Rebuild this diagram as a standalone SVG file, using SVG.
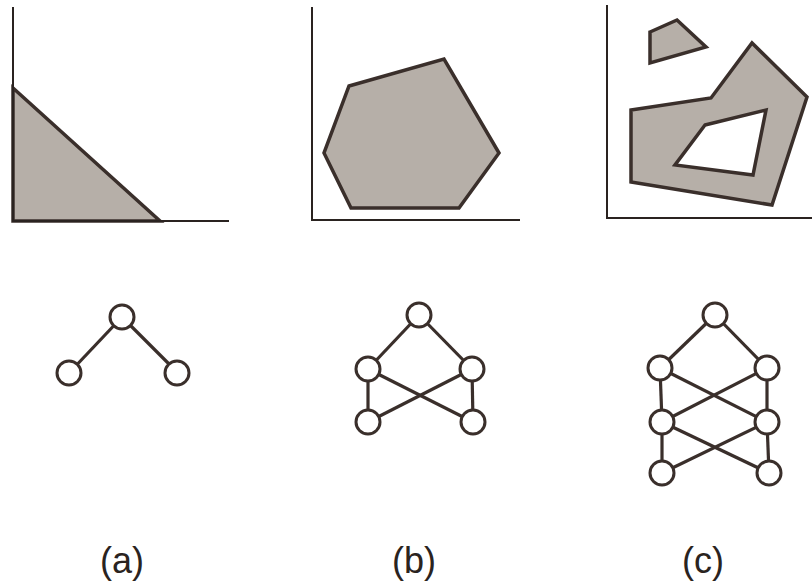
<svg xmlns="http://www.w3.org/2000/svg" width="812" height="588" viewBox="0 0 812 588">
<style>
.axis{fill:none;stroke:#2a2320;stroke-width:2}
.region{fill:#b6afa8;stroke:#3a2f2b;stroke-width:3.5;stroke-linejoin:miter}
.node circle{fill:#ffffff;stroke:#3a2f2b;stroke-width:3}
.edge{stroke:#3a2f2b;stroke-width:3.2;fill:none}
.lbl{font-family:"Liberation Sans",Arial,sans-serif;font-size:36px;fill:#2a2320;text-anchor:middle}
</style>
<rect width="812" height="588" fill="#ffffff"/>
<!-- Panel (a) -->
<g id="panel-a">
<polygon class="region" points="13,88 160,221 13,221"/>
<polyline class="axis" points="13,7 13,221 229,221"/>
</g>
<!-- Panel (b) -->
<g id="panel-b">
<polygon class="region" points="349,86 444,59 499,153 459,208 351,208 324,153"/>
<polyline class="axis" points="312,7 312,220 520,220"/>
</g>
<!-- Panel (c) -->
<g id="panel-c">
<polygon class="region" points="650,32 677,20 706,47 650,63"/>
<path class="region" fill-rule="evenodd" d="M631,110 L711,98 L752,43 L807,97 L772,205 L631,182 Z M705,125 L766,110 L753,175 L675,165 Z"/>
<polyline class="axis" points="607,5 607,218 812,218"/>
</g>
<!-- Connectors -->
<g id="connectors">
<line class="edge" x1="122" y1="317" x2="70" y2="372"/>
<line class="edge" x1="122" y1="317" x2="177" y2="372"/>
<line class="edge" x1="419" y1="315" x2="368" y2="369"/>
<line class="edge" x1="419" y1="315" x2="472" y2="369"/>
<line class="edge" x1="368" y1="369" x2="368" y2="422"/>
<line class="edge" x1="472" y1="369" x2="473" y2="422"/>
<line class="edge" x1="368" y1="369" x2="473" y2="422"/>
<line class="edge" x1="472" y1="369" x2="368" y2="422"/>
<line class="edge" x1="715" y1="315" x2="660" y2="368"/>
<line class="edge" x1="715" y1="315" x2="767" y2="368"/>
<line class="edge" x1="660" y1="368" x2="662" y2="422"/>
<line class="edge" x1="767" y1="368" x2="767" y2="422"/>
<line class="edge" x1="660" y1="368" x2="767" y2="422"/>
<line class="edge" x1="767" y1="368" x2="662" y2="422"/>
<line class="edge" x1="662" y1="422" x2="662" y2="473"/>
<line class="edge" x1="767" y1="422" x2="769" y2="473"/>
<line class="edge" x1="662" y1="422" x2="769" y2="473"/>
<line class="edge" x1="767" y1="422" x2="662" y2="473"/>
</g>
<!-- Nodes graph (a) -->
<g id="a-top" class="node"><circle cx="122" cy="317" r="12"/></g>
<g id="a-left" class="node"><circle cx="69" cy="373" r="12"/></g>
<g id="a-right" class="node"><circle cx="177" cy="373" r="12"/></g>
<!-- Nodes graph (b) -->
<g id="b-top" class="node"><circle cx="419" cy="315" r="12"/></g>
<g id="b-ml" class="node"><circle cx="368" cy="369" r="12"/></g>
<g id="b-mr" class="node"><circle cx="472" cy="369" r="12"/></g>
<g id="b-bl" class="node"><circle cx="368" cy="422" r="12"/></g>
<g id="b-br" class="node"><circle cx="473" cy="422" r="12"/></g>
<!-- Nodes graph (c) -->
<g id="c-top" class="node"><circle cx="715" cy="315" r="12"/></g>
<g id="c-m1l" class="node"><circle cx="660" cy="368" r="12"/></g>
<g id="c-m1r" class="node"><circle cx="767" cy="368" r="12"/></g>
<g id="c-m2l" class="node"><circle cx="662" cy="422" r="12"/></g>
<g id="c-m2r" class="node"><circle cx="767" cy="422" r="12"/></g>
<g id="c-bl" class="node"><circle cx="662" cy="473" r="12"/></g>
<g id="c-br" class="node"><circle cx="769" cy="473" r="12"/></g>
<!-- Labels -->
<text class="lbl" x="122" y="573">(a)</text>
<text class="lbl" x="414" y="573">(b)</text>
<text class="lbl" x="703" y="573">(c)</text>
</svg>
